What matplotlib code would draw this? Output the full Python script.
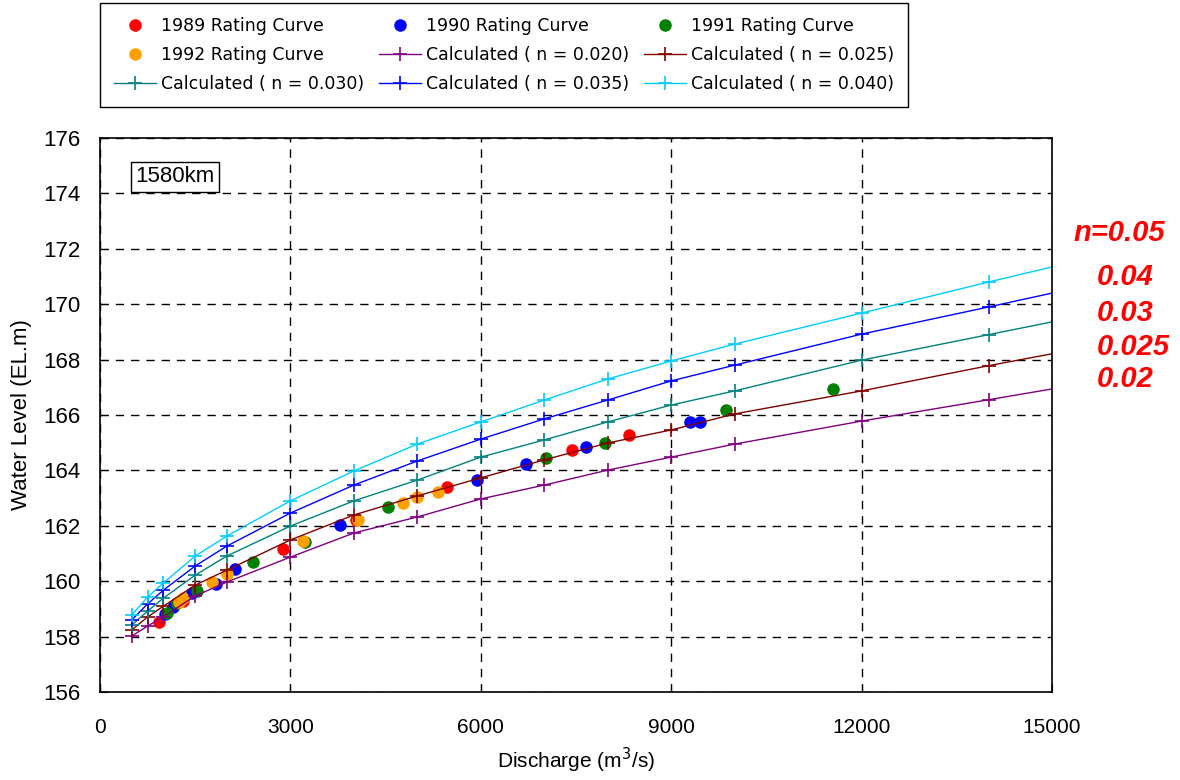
# -*- coding: utf-8 -*-
import matplotlib
matplotlib.use('Agg')
import matplotlib.pyplot as plt

plt.rcParams['font.family'] = ['Liberation Sans', 'DejaVu Sans']

# 観測値 (Rating Curve)
q_1989 = [930, 1310, 2880, 4030, 5470, 7440, 8340]
h_1989 = [158.53, 159.3, 161.16, 162.21, 163.40, 164.74, 165.28]
q_1990 = [1020, 1150, 1450, 1830, 2130, 3780, 5940, 6710, 7660, 9300, 9460]
h_1990 = [158.82, 159.07, 159.57, 159.90, 160.44, 162.03, 163.65, 164.23, 164.85, 165.75, 165.75]
q_1991 = [1060, 1215, 1530, 2410, 3230, 4530, 7030, 7960, 9860, 11550]
h_1991 = [158.85, 159.20, 159.65, 160.70, 161.40, 162.67, 164.45, 164.98, 166.18, 166.94]
q_1992 = [1245, 1310, 1765, 2000, 3200, 4065, 4770, 4990, 5320]
h_1992 = [159.25, 159.40, 159.97, 160.27, 161.45, 162.20, 162.82, 163.04, 163.22]

# 計算値 (Manning n)
q_calc = [500, 750, 1000, 1500, 2000, 3000, 4000, 5000, 6000, 7000, 8000,
          9000, 10000, 12000, 14000, 16000]
h_n020 = [158.02, 158.38, 158.72, 159.47, 159.97, 160.87, 161.74, 162.32, 162.97,
          163.47, 164.01, 164.48, 164.95, 165.78, 166.55, 167.33]
h_n025 = [158.24, 158.71, 159.10, 159.86, 160.40, 161.49, 162.39, 163.08, 163.73,
          164.38, 164.99, 165.46, 166.04, 166.87, 167.78, 168.64]
h_n030 = [158.42, 158.92, 159.39, 160.22, 160.91, 161.99, 162.90, 163.65, 164.48,
          165.10, 165.75, 166.36, 166.87, 167.98, 168.90, 169.82]
h_n035 = [158.60, 159.18, 159.68, 160.55, 161.27, 162.46, 163.47, 164.34, 165.13,
          165.86, 166.54, 167.23, 167.80, 168.92, 169.90, 170.90]
h_n040 = [158.78, 159.43, 159.94, 160.91, 161.63, 162.90, 163.98, 164.95, 165.75,
          166.54, 167.30, 167.95, 168.56, 169.68, 170.80, 171.89]

n_labels = ['n=0.05', '0.04', '0.03', '0.025', '0.02']

fig = plt.figure(figsize=(11.8, 7.8), dpi=100, facecolor='w')
ax = fig.add_axes([100 / 1180, 1 - 692 / 780, 952 / 1180, 554 / 780])

obs = [(q_1989, h_1989, '#ff0000', '1989 Rating Curve'),
       (q_1990, h_1990, '#0000ff', '1990 Rating Curve'),
       (q_1991, h_1991, '#008000', '1991 Rating Curve'),
       (q_1992, h_1992, '#ffa000', '1992 Rating Curve')]
hd = {}
for q, h, c, lab in obs:
    hd[lab], = ax.plot(q, h, 'o', ls='none', color=c, ms=8, label=lab)

calc = [(h_n020, '#800080', 'Calculated ( n = 0.020)'),
        (h_n025, '#800000', 'Calculated ( n = 0.025)'),
        (h_n030, '#008080', 'Calculated ( n = 0.030)'),
        (h_n035, '#0000ff', 'Calculated ( n = 0.035)'),
        (h_n040, '#00ccff', 'Calculated ( n = 0.040)')]
for h, c, lab in calc:
    hd[lab], = ax.plot(q_calc, h, '-', marker='+', color=c, lw=1.0, ms=10,
                       mew=1.2, label=lab)

ax.set_xlim(0, 15000)
ax.set_ylim(156, 176)
ax.set_xticks(range(0, 15001, 3000))
ax.set_yticks(range(156, 177, 2))
ax.grid(True, color='k', ls=(0, (6, 5)), lw=1.0)
ax.tick_params(direction='in', length=6, color='k')
ax.tick_params(axis='x', pad=19, labelsize=15)
ax.tick_params(axis='y', pad=14, labelsize=16)
for s in ax.spines.values():
    s.set_linewidth(1.2)

ax.set_xlabel('Discharge (m$^3$/s)', fontsize=15, labelpad=6)
ax.set_ylabel('Water Level (EL.m)', fontsize=16, labelpad=8)

ax.text(560, 174.6, '1580km', fontsize=16, va='center', ha='left',
        bbox=dict(boxstyle='square,pad=0.2', fc='w', ec='k', lw=1.0))

# 右側のn値ラベル
n_y = [233, 277, 313, 347, 379]
n_x = [1073, 1097, 1097, 1097, 1097]
for lab, x, y in zip(n_labels, n_x, n_y):
    fig.text(x / 1180, 1 - y / 780, lab, color='#ff0000', fontsize=21,
             fontweight='bold', fontstyle='italic', va='center', ha='left')

order = ['1989 Rating Curve', '1992 Rating Curve', 'Calculated ( n = 0.030)',
         '1990 Rating Curve', 'Calculated ( n = 0.020)', 'Calculated ( n = 0.035)',
         '1991 Rating Curve', 'Calculated ( n = 0.025)', 'Calculated ( n = 0.040)']
leg = fig.legend([hd[k] for k in order], order, ncol=3, loc='upper left',
                 bbox_to_anchor=(100 / 1180, 1 - 97 / 780, 808 / 1180, 94 / 780),
                 mode='expand', borderaxespad=0, frameon=True,
                 fancybox=False, edgecolor='k', framealpha=1, handlelength=2.4,
                 handletextpad=0.3, labelspacing=0.65, borderpad=0.8,
                 prop={'family': ['DejaVu Sans'], 'size': 12.5})
leg.get_frame().set_linewidth(1.0)

fig.savefig('out.png', dpi=100)
